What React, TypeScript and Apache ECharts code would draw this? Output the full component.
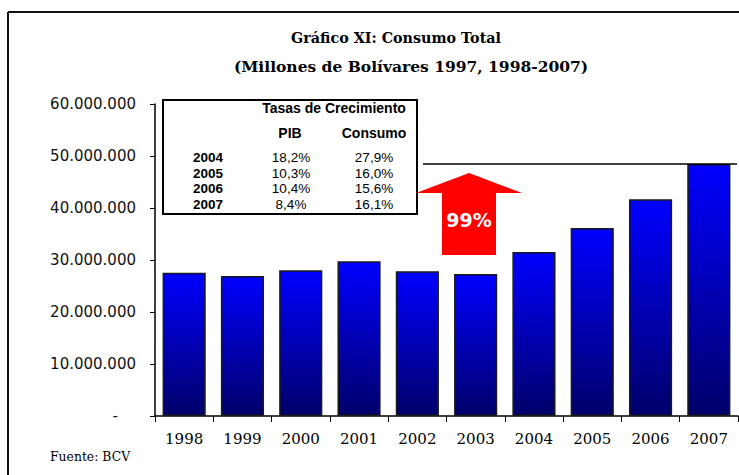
import React, { useEffect, useRef } from "react";
import * as echarts from "echarts";

const years = ["1998", "1999", "2000", "2001", "2002", "2003", "2004", "2005", "2006", "2007"];
const consumo = [27560000, 26920000, 28020000, 29750000, 27830000, 27310000, 31540000, 36150000, 41670000, 48460000];
const tablaAnios = ["2004", "2005", "2006", "2007"];
const tasaPIB = ["18,2%", "10,3%", "10,4%", "8,4%"];
const tasaConsumo = ["27,9%", "16,0%", "15,6%", "16,1%"];
const crecimiento = "99%";
const titulo = "Gráfico XI: Consumo Total";
const subtitulo = "(Millones de Bolívares 1997, 1998-2007)";
const fuente = "Fuente: BCV";

const fmt = (v: number) => String(Math.round(v)).replace(/\B(?=(\d{3})+(?!\d))/g, ".");

export default function App() {
  const ref = useRef<HTMLDivElement>(null);
  useEffect(() => {
    if (!ref.current) return;
    const chart = echarts.init(ref.current, null, { renderer: "svg" });
    chart.setOption({
      animation: false,
      backgroundColor: "#ffffff",
      grid: { left: 155, right: 1, top: 104, bottom: 59, containLabel: false },
      xAxis: {
        type: "category",
        data: years,
        axisLine: { lineStyle: { color: "#000", width: 1.5 } },
        axisTick: { show: true, length: 6, lineStyle: { color: "#000" } },
        axisLabel: { fontFamily: "DejaVu Serif", fontSize: 15, color: "#000", margin: 15 },
      },
      yAxis: {
        type: "value",
        min: 0,
        max: 60000000,
        interval: 10000000,
        splitLine: { show: false },
        axisLine: { show: true, lineStyle: { color: "#000", width: 1.5 } },
        axisTick: { show: true, length: 5, lineStyle: { color: "#000" } },
        axisLabel: {
          fontFamily: "DejaVu Sans",
          fontSize: 15,
          color: "#111",
          margin: 19,
          formatter: (v: number) => (v === 0 ? "{d|-}" : fmt(v)),
          rich: { d: { padding: [0, 18, 0, 0], fontFamily: "DejaVu Sans", fontSize: 15, color: "#111" } },
        },
      },
      series: [
        {
          type: "bar",
          data: consumo,
          barCategoryGap: "26%",
          itemStyle: {
            color: new echarts.graphic.LinearGradient(0, 0, 0, 1, [
              { offset: 0, color: "#0000FF" },
              { offset: 1, color: "#00006A" },
            ]),
            borderColor: "#1a1a1a",
            borderWidth: 1.5,
          },
        },
      ],
    });

    const yLine = chart.convertToPixel({ yAxisIndex: 0 }, consumo[consumo.length - 1]) as number;

    const rowFont = "13.5px 'Liberation Sans', Arial, sans-serif";
    const rowFontBold = "bold 13.5px 'Liberation Sans', Arial, sans-serif";
    const headFont = "bold 14px 'Liberation Sans', Arial, sans-serif";

    const tableTexts: any[] = [];
    const rowY = [157.5, 173, 188.5, 204];
    tablaAnios.forEach((a, i) => {
      tableTexts.push({
        type: "text",
        style: { x: 208, y: rowY[i], text: a, align: "center", verticalAlign: "middle", font: rowFontBold, fill: "#000" },
      });
      tableTexts.push({
        type: "text",
        style: { x: 291, y: rowY[i], text: tasaPIB[i], align: "center", verticalAlign: "middle", font: rowFont, fill: "#000" },
      });
      tableTexts.push({
        type: "text",
        style: { x: 374, y: rowY[i], text: tasaConsumo[i], align: "center", verticalAlign: "middle", font: rowFont, fill: "#000" },
      });
    });

    chart.setOption({
      graphic: [
        { type: "line", shape: { x1: 8, y1: 12, x2: 739, y2: 12 }, style: { stroke: "#111", lineWidth: 2 } },
        { type: "line", shape: { x1: 8, y1: 12, x2: 8, y2: 475 }, style: { stroke: "#111", lineWidth: 2 } },
        {
          type: "text",
          style: { x: 396, y: 38, text: titulo, align: "center", verticalAlign: "middle", font: "bold 14.3px 'DejaVu Serif', serif", fill: "#000" },
        },
        {
          type: "text",
          style: { x: 411, y: 66, text: subtitulo, align: "center", verticalAlign: "middle", font: "bold 15.5px 'DejaVu Serif', serif", fill: "#000" },
        },
        {
          type: "text",
          style: { x: 50, y: 456, text: fuente, align: "left", verticalAlign: "middle", font: "12.4px 'DejaVu Serif', serif", fill: "#000" },
        },
        { type: "line", z: 10, shape: { x1: 423, y1: yLine, x2: 737, y2: yLine }, style: { stroke: "#000", lineWidth: 1.5 } },
        { type: "rect", z: 10, shape: { x: 163, y: 100, width: 254, height: 114 }, style: { fill: "#fff", stroke: "#000", lineWidth: 2 } },
        {
          type: "text",
          z: 11,
          style: { x: 334, y: 108, text: "Tasas de Crecimiento", align: "center", verticalAlign: "middle", font: headFont, fill: "#000" },
        },
        {
          type: "text",
          z: 11,
          style: { x: 290, y: 133, text: "PIB", align: "center", verticalAlign: "middle", font: headFont, fill: "#000" },
        },
        {
          type: "text",
          z: 11,
          style: { x: 374, y: 133, text: "Consumo", align: "center", verticalAlign: "middle", font: headFont, fill: "#000" },
        },
        ...tableTexts.map((t) => ({ ...t, z: 11 })),
        {
          type: "polygon",
          z: 10,
          shape: { points: [[469, 173], [522, 193], [496, 193], [496, 255], [442, 255], [442, 193], [416, 193]] },
          style: { fill: "#FF0000" },
        },
        {
          type: "text",
          z: 11,
          style: { x: 469, y: 220, text: crecimiento, align: "center", verticalAlign: "middle", font: "bold 19px 'DejaVu Sans', sans-serif", fill: "#fff" },
        },
      ],
    });

    return () => chart.dispose();
  }, []);
  return <div ref={ref} style={{ position: "fixed", left: 0, top: 0, width: 739, height: 475 }} />;
}
